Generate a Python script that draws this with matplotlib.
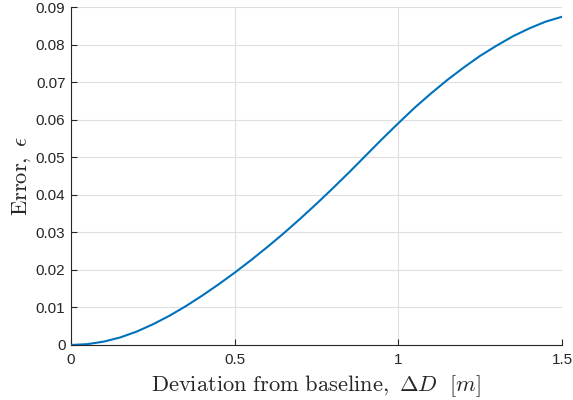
import matplotlib
matplotlib.use("Agg")
import matplotlib.pyplot as plt

# Data
deviation = [0.0, 0.05, 0.1, 0.15, 0.2, 0.25, 0.3, 0.35, 0.4, 0.45, 0.5,
             0.55, 0.6, 0.65, 0.7, 0.75, 0.8, 0.85, 0.9, 0.95, 1.0,
             1.05, 1.1, 1.15, 1.2, 1.25, 1.3, 1.35, 1.4, 1.45, 1.5]
error = [0.0, 0.00023, 0.0009, 0.0020, 0.00355, 0.0055, 0.00775, 0.0103, 0.0131, 0.0161, 0.01925,
         0.0226, 0.0261, 0.02975, 0.0336, 0.0376, 0.04175, 0.0460, 0.0504, 0.0548, 0.05905,
         0.0632, 0.0670, 0.0706, 0.0739, 0.0770, 0.0797, 0.0822, 0.0843, 0.0861, 0.0874]

xticks = [0, 0.5, 1, 1.5]
xticklabels = ["0", "0.5", "1", "1.5"]
yticks = [0, 0.01, 0.02, 0.03, 0.04, 0.05, 0.06, 0.07, 0.08, 0.09]
yticklabels = ["0", "0.01", "0.02", "0.03", "0.04", "0.05", "0.06", "0.07", "0.08", "0.09"]

plt.rcParams["font.family"] = ["Liberation Sans", "DejaVu Sans"]
plt.rcParams["mathtext.fontset"] = "cm"

fig = plt.figure(figsize=(5.73, 4.0), dpi=100)
ax = fig.add_axes([0.1239, 0.1375, 0.9808 - 0.1239, 0.9825 - 0.1375])

ax.plot(deviation, error, color="#0072BD", linewidth=1.5, solid_joinstyle="round", zorder=3)

ax.set_xlim(0, 1.5)
ax.set_ylim(0, 0.09)
ax.set_xticks(xticks)
ax.set_xticklabels(xticklabels)
ax.set_yticks(yticks)
ax.set_yticklabels(yticklabels)

ax.grid(True, color="#dfdfdf", linewidth=0.8, zorder=0)
ax.set_axisbelow(True)

for s in ["top", "right"]:
    ax.spines[s].set_visible(False)
for s in ["left", "bottom"]:
    ax.spines[s].set_color("#262626")
    ax.spines[s].set_linewidth(0.8)

ax.tick_params(direction="in", length=4, width=0.8, colors="#262626", labelsize=11,
               labelcolor="#262626")
ax.tick_params(axis="x", pad=6)
ax.tick_params(axis="y", pad=4)

ax.set_xlabel(r"$\mathrm{Deviation\ from\ baseline,}\ \Delta D\ \ [m]$", fontsize=16.2, color="#262626", labelpad=4)
ax.set_ylabel(r"$\mathrm{Error,}\ \epsilon$", fontsize=16.2, color="#262626", labelpad=2)

fig.savefig("out.png", dpi=100)
